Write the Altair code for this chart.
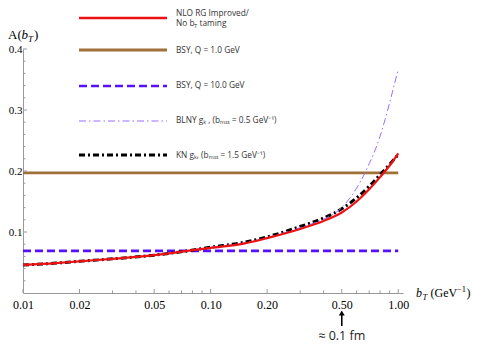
import altair as alt
import pandas as pd

# ---- data ----
b_vals = [0.01, 0.015, 0.02, 0.03, 0.05, 0.075, 0.1, 0.15, 0.2, 0.3, 0.4, 0.5, 0.6, 0.7, 0.8, 0.9, 1.0]
nlo_vals = [0.046, 0.049, 0.052, 0.056, 0.062, 0.069, 0.074, 0.081, 0.090, 0.105, 0.118, 0.132, 0.150, 0.170, 0.190, 0.209, 0.229]
kn_vals = [0.046, 0.049, 0.052, 0.056, 0.062, 0.069, 0.075, 0.083, 0.092, 0.109, 0.123, 0.138, 0.156, 0.175, 0.194, 0.211, 0.227]
b_blny = [0.01, 0.015, 0.02, 0.03, 0.05, 0.075, 0.1, 0.15, 0.2, 0.3, 0.4, 0.45, 0.5, 0.55, 0.6, 0.66, 0.7, 0.75, 0.8, 0.85, 0.9, 0.95, 1.0]
blny_vals = [0.046, 0.049, 0.052, 0.056, 0.062, 0.069, 0.075, 0.082, 0.091, 0.107, 0.121, 0.129, 0.140, 0.155, 0.172, 0.195, 0.212, 0.233, 0.257, 0.284, 0.312, 0.340, 0.367]
b_flat = [0.01, 1.0]
bsy_q1 = 0.197
bsy_q10 = 0.069

x_major = [0.01, 0.02, 0.05, 0.1, 0.2, 0.5, 1.0]
x_minor = [0.03, 0.04, 0.06, 0.07, 0.08, 0.09, 0.3, 0.4, 0.6, 0.7, 0.8, 0.9]
y_major = [0.1, 0.2, 0.3, 0.4]
y_minor = [0.02, 0.04, 0.06, 0.08, 0.12, 0.14, 0.16, 0.18, 0.22, 0.24, 0.26, 0.28, 0.32, 0.34, 0.36, 0.38]

W, H = 380, 244
PADL, PADT = 15, 41

xs = alt.Scale(type="log", domain=[0.01, 1.06], nice=False)
ys = alt.Scale(domain=[0, 0.4], nice=False, zero=False)

X = alt.X("b:Q", scale=xs, axis=alt.Axis(values=x_major, format=".2f", title=None, ticks=False, grid=False,
                                          labelFont="Liberation Serif", labelFontSize=12, labelColor="black",
                                          domainColor="#999", labelPadding=6, labelFlush=False))
Y = alt.Y("A:Q", scale=ys, axis=alt.Axis(values=y_major, format=".1f", title=None, ticks=False, grid=False,
                                          labelFont="Liberation Serif", labelFontSize=11, labelColor="black",
                                          domainColor="#999", labelPadding=1, labelFlush=False))

nlo_df = pd.DataFrame({"b": b_vals, "A": nlo_vals})
kn_df = pd.DataFrame({"b": b_vals, "A": kn_vals})
blny_df = pd.DataFrame({"b": b_blny, "A": blny_vals})
q1_df = pd.DataFrame({"b": b_flat, "A": [bsy_q1] * 2})
q10_df = pd.DataFrame({"b": b_flat, "A": [bsy_q10] * 2})

brown = "#a0703a"
blue = "#5511ff"
purple = "#9a6cff"
red = "#ee1111"

l_q1 = alt.Chart(q1_df).mark_line(color=brown, strokeWidth=2.8).encode(x=X, y=Y)
l_q10 = alt.Chart(q10_df).mark_line(color=blue, strokeWidth=2.6, strokeDash=[8, 4]).encode(x="b:Q", y="A:Q")
l_kn = alt.Chart(kn_df).mark_line(color="black", strokeWidth=3, strokeDash=[6, 3, 2, 3], interpolate="monotone").encode(x="b:Q", y="A:Q")
l_blny = alt.Chart(blny_df).mark_line(color=purple, strokeWidth=1, strokeDash=[7, 3, 1.5, 3], interpolate="monotone").encode(x="b:Q", y="A:Q")
l_nlo = alt.Chart(nlo_df).mark_line(color=red, strokeWidth=2.2, interpolate="monotone").encode(x="b:Q", y="A:Q")

# inward ticks drawn through the scales
tick_col = "#999"
xt_major = alt.Chart(pd.DataFrame({"b": x_major})).mark_rule(color=tick_col, strokeWidth=1).encode(
    x="b:Q", y=alt.value(H), y2=alt.value(H - 4))
xt_minor = alt.Chart(pd.DataFrame({"b": x_minor})).mark_rule(color=tick_col, strokeWidth=1).encode(
    x="b:Q", y=alt.value(H), y2=alt.value(H - 2.5))
yt_major = alt.Chart(pd.DataFrame({"A": y_major})).mark_rule(color=tick_col, strokeWidth=1).encode(
    y="A:Q", x=alt.value(0), x2=alt.value(4))
yt_minor = alt.Chart(pd.DataFrame({"A": y_minor})).mark_rule(color=tick_col, strokeWidth=1).encode(
    y="A:Q", x=alt.value(0), x2=alt.value(2.5))

one = alt.Data(values=[{}])


def txt(s, x, y, size=8.3, font="Open Sans", style="normal", align="left", color="#333", baseline="middle"):
    return alt.Chart(one).mark_text(text=s, font=font, fontSize=size, fontStyle=style, align=align,
                                    baseline=baseline, color=color).encode(x=alt.value(x), y=alt.value(y))


def leg_line(y, color, width, dash=None):
    kw = dict(color=color, strokeWidth=width)
    if dash:
        kw["strokeDash"] = dash
    return alt.Chart(one).mark_rule(**kw).encode(x=alt.value(56), x2=alt.value(144), y=alt.value(y))


LX = 153
legend = [
    leg_line(-31, red, 2.4),
    txt("NLO RG Improved/", LX, -35),
    txt("No b", LX, -25),
    txt("T", LX + 18, -23, size=6),
    txt("taming", LX + 23.5, -25),
    leg_line(1, brown, 2.8),
    txt("BSY, Q = 1.0 GeV", LX, 2),
    leg_line(37, blue, 2.6, [8, 4]),
    txt("BSY, Q = 10.0 GeV", LX, 37),
    leg_line(72, purple, 1, [7, 3, 1.5, 3]),
    txt("BLNY g\u2096 , (b\u2098\u2090\u2093 = 0.5 GeV\u207b\u00b9)", LX, 72),
    leg_line(106, "black", 3, [6, 3, 2, 3]),
    txt("KN g\u2096, (b\u2098\u2090\u2093 = 1.5 GeV\u207b\u00b9)", LX, 107),
]

serif = "Liberation Serif"
titles = [
    txt("A(", -15, -10, size=13, font=serif, color="black", baseline="alphabetic"),
    txt("b", -1.5, -10, size=13, font=serif, style="italic", color="black", baseline="alphabetic"),
    txt("T", 5, -7.5, size=9, font=serif, style="italic", color="black", baseline="alphabetic"),
    txt(")", 11, -10, size=13, font=serif, color="black", baseline="alphabetic"),
    txt("b", 393, 248, size=12, font=serif, style="italic", color="black", baseline="alphabetic"),
    txt("T", 399.5, 250.5, size=8.5, font=serif, style="italic", color="black", baseline="alphabetic"),
    txt("(GeV", 407.5, 248, size=12, font=serif, color="black", baseline="alphabetic"),
    txt("\u22121", 434, 242.5, size=8.5, font=serif, color="black", baseline="alphabetic"),
    txt(")", 443.5, 248, size=12, font=serif, color="black", baseline="alphabetic"),
]

arrow_rule = alt.Chart(one).mark_rule(color="black", strokeWidth=1.6).encode(
    x=alt.datum(0.5), y=alt.value(265), y2=alt.value(277))
arrow_head = alt.Chart(one).mark_point(shape="triangle-up", filled=True, color="black", size=35, opacity=1).encode(
    x=alt.datum(0.5), y=alt.value(264))
arrow_text = alt.Chart(one).mark_text(text="\u2248 0.1 fm", font="Open Sans", fontSize=12.5, color="#222",
                                      align="center", baseline="middle").encode(x=alt.datum(0.5), y=alt.value(287))

chart = alt.layer(
    l_q1, xt_major, xt_minor, yt_major, yt_minor, l_q10, l_kn, l_blny, l_nlo,
    arrow_rule, arrow_head, arrow_text, *legend, *titles
).properties(
    width=W, height=H, autosize="none",
    padding={"left": PADL, "top": PADT, "right": 465 - PADL - W, "bottom": 52},
).configure_view(stroke=None)

chart.save("out.html", embed_options={"renderer": "svg", "actions": False})
